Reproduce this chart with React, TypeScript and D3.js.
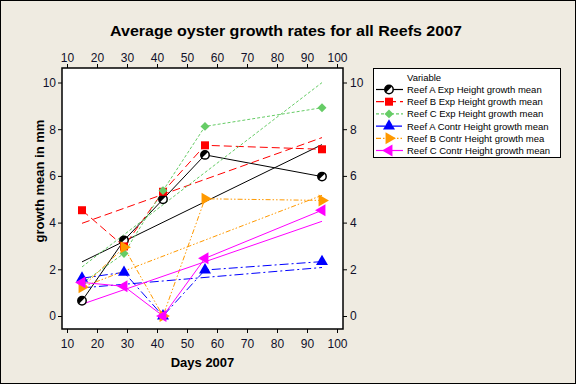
import React, { useEffect, useRef } from 'react';
import * as d3 from 'd3';

// days sampled and mean growth (mm) per series
const days = [15, 29, 42, 56, 95];
const reefAExp = [0.65, 3.24, 5.0, 6.9, 5.97];
const reefBExp = [4.53, 2.98, 5.32, 7.31, 7.14];
const reefCExp = [1.4, 2.68, 5.37, 8.12, 8.92];
const reefAContr = [1.62, 1.87, 0, 1.97, 2.33];
const reefBContr = [1.23, 2.94, 0, 5.02, 4.95];
const reefCContr = [1.44, 1.27, 0, 2.47, 4.53];

const seriesNames = [
  'Reef A Exp Height growth mean',
  'Reef B Exp Height growth mean',
  'Reef C Exp Height growth mean',
  'Reef A Contr Height growth mean',
  'Reef B Contr Height growth mea',
  'Reef C Contr Height growth mean',
];
const xTicks = [10, 20, 30, 40, 50, 60, 70, 80, 90, 100];
const yTicks = [0, 2, 4, 6, 8, 10];

const allSeries = [reefAExp, reefBExp, reefCExp, reefAContr, reefBContr, reefCContr];

const styles = [
  { color: '#000000', dash: null, symbol: 'halfcircle' },
  { color: '#ff0000', dash: '8,4', symbol: 'square' },
  { color: '#66cc66', dash: '3,2', symbol: 'diamond' },
  { color: '#0000ff', dash: '9,3,2,3', symbol: 'up' },
  { color: '#ff9900', dash: '5,2,1.5,2,1.5,2', symbol: 'right' },
  { color: '#ff00ff', dash: null, symbol: 'left' },
];

function fit(xs: number[], ys: number[]) {
  const mx = d3.mean(xs)!;
  const my = d3.mean(ys)!;
  let sxy = 0;
  let sxx = 0;
  xs.forEach((x, i) => {
    sxy += (x - mx) * (ys[i] - my);
    sxx += (x - mx) * (x - mx);
  });
  const b = sxy / sxx;
  return (x: number) => my + b * (x - mx);
}

function drawMarker(g: any, kind: string, color: string, cx: number, cy: number) {
  if (kind === 'halfcircle') {
    g.append('circle')
      .attr('cx', cx).attr('cy', cy).attr('r', 4.2)
      .attr('fill', '#fff').attr('stroke', color).attr('stroke-width', 1.5);
    g.append('path')
      .attr('transform', `translate(${cx},${cy})`)
      .attr('d', d3.arc()({ innerRadius: 0, outerRadius: 4.2, startAngle: -Math.PI * 0.75, endAngle: Math.PI * 0.25 } as any))
      .attr('fill', color);
    return;
  }
  let type: any = d3.symbolSquare;
  let size = 64;
  let rot = 0;
  if (kind === 'diamond') { type = d3.symbolSquare; size = 40; rot = 45; }
  if (kind === 'up') { type = d3.symbolTriangle; size = 62; }
  if (kind === 'right') { type = d3.symbolTriangle; size = 62; rot = 90; }
  if (kind === 'left') { type = d3.symbolTriangle; size = 62; rot = -90; }
  g.append('path')
    .attr('transform', `translate(${cx},${cy}) rotate(${rot})`)
    .attr('d', d3.symbol().type(type).size(size)())
    .attr('fill', color);
}

export default function App() {
  const ref = useRef<SVGSVGElement>(null);

  useEffect(() => {
    const width = 576;
    const height = 384;
    const left = 62, right = 343, top = 68, bottom = 329;
    const font = "'Liberation Sans', Arial, sans-serif";
    const ink = '#10102a';

    const svg = d3.select(ref.current);
    svg.selectAll('*').remove();

    svg.append('rect')
      .attr('x', 0.5).attr('y', 0.5).attr('width', width - 1).attr('height', height - 1)
      .attr('fill', '#efebe1').attr('stroke', '#000');

    const x = d3.scaleLinear().domain([10, 100]).range([67, 337]);
    const y = d3.scaleLinear().domain([0, 10]).range([316, 82.5]);

    svg.append('rect')
      .attr('x', left).attr('y', top).attr('width', right - left).attr('height', bottom - top)
      .attr('fill', '#fff');

    const styleAxis = (g: any) => {
      g.select('.domain').remove();
      g.selectAll('line').attr('stroke', '#000');
      g.selectAll('text').attr('font-family', font).attr('font-size', 12).attr('fill', ink);
    };

    svg.append('g').attr('transform', `translate(0,${bottom})`)
      .call(d3.axisBottom(x).tickValues(xTicks).tickSize(4).tickPadding(6).tickFormat(d3.format('d')))
      .call(styleAxis);
    svg.append('g').attr('transform', `translate(0,${top})`)
      .call(d3.axisTop(x).tickValues(xTicks).tickSize(4).tickPadding(2).tickFormat(d3.format('d')))
      .call(styleAxis);
    svg.append('g').attr('transform', `translate(${left},0)`)
      .call(d3.axisLeft(y).tickValues(yTicks).tickSize(4).tickPadding(2).tickFormat(d3.format('d')))
      .call(styleAxis);
    svg.append('g').attr('transform', `translate(${right},0)`)
      .call(d3.axisRight(y).tickValues(yTicks).tickSize(4).tickPadding(3).tickFormat(d3.format('d')))
      .call(styleAxis);

    const plot = svg.append('g');
    const line = d3.line<number>().x((d, i) => x(days[i])).y(d => y(d));

    allSeries.forEach((vals, s) => {
      const st = styles[s];
      const f = fit(days, vals);
      const x0 = days[0];
      const x1 = days[days.length - 1];
      plot.append('line')
        .attr('x1', x(x0)).attr('y1', y(f(x0)))
        .attr('x2', x(x1)).attr('y2', y(f(x1)))
        .attr('stroke', st.color).attr('stroke-width', 1)
        .attr('stroke-dasharray', st.dash);
      plot.append('path')
        .attr('d', line(vals))
        .attr('fill', 'none')
        .attr('stroke', st.color).attr('stroke-width', 1)
        .attr('stroke-dasharray', st.dash);
    });
    allSeries.forEach((vals, s) => {
      const st = styles[s];
      vals.forEach((v, i) => drawMarker(plot, st.symbol, st.color, x(days[i]), y(v)));
    });

    svg.append('rect')
      .attr('x', left).attr('y', top).attr('width', right - left).attr('height', bottom - top)
      .attr('fill', 'none').attr('stroke', '#000').attr('stroke-width', 1.5);

    svg.append('text')
      .attr('x', 286).attr('y', 36)
      .attr('text-anchor', 'middle')
      .attr('font-family', font).attr('font-weight', 'bold').attr('font-size', 15)
      .attr('textLength', 352).attr('lengthAdjust', 'spacingAndGlyphs')
      .attr('fill', '#000')
      .text('Average oyster growth rates for all Reefs 2007');

    svg.append('text')
      .attr('x', (left + right) / 2).attr('y', 367)
      .attr('text-anchor', 'middle')
      .attr('font-family', font).attr('font-weight', 'bold').attr('font-size', 13)
      .text('Days 2007');

    svg.append('text')
      .attr('transform', `translate(44,181) rotate(-90)`)
      .attr('text-anchor', 'middle')
      .attr('font-family', font).attr('font-weight', 'bold').attr('font-size', 13)
      .text('growth mean in mm');

    // legend
    const lg = svg.append('g');
    lg.append('rect')
      .attr('x', 373.5).attr('y', 68.5).attr('width', 187).attr('height', 89)
      .attr('fill', '#fff').attr('stroke', '#000');
    lg.append('text')
      .attr('x', 407).attr('y', 80.5)
      .attr('font-family', font).attr('font-size', 9.5)
      .text('Variable');
    seriesNames.forEach((name, i) => {
      const st = styles[i];
      const cy = 89.5 + i * 12.2;
      lg.append('line')
        .attr('x1', 376).attr('x2', 403).attr('y1', cy).attr('y2', cy)
        .attr('stroke', st.color).attr('stroke-width', 1.2)
        .attr('stroke-dasharray', st.dash);
      drawMarker(lg, st.symbol, st.color, 389, cy);
      lg.append('text')
        .attr('x', 407).attr('y', cy + 3.5)
        .attr('font-family', font).attr('font-size', 9.5)
        .attr('fill', '#000')
        .text(name);
    });
  }, []);

  return (
    <svg
      ref={ref}
      width={576}
      height={384}
      style={{ position: 'absolute', left: 0, top: 0 }}
    />
  );
}
